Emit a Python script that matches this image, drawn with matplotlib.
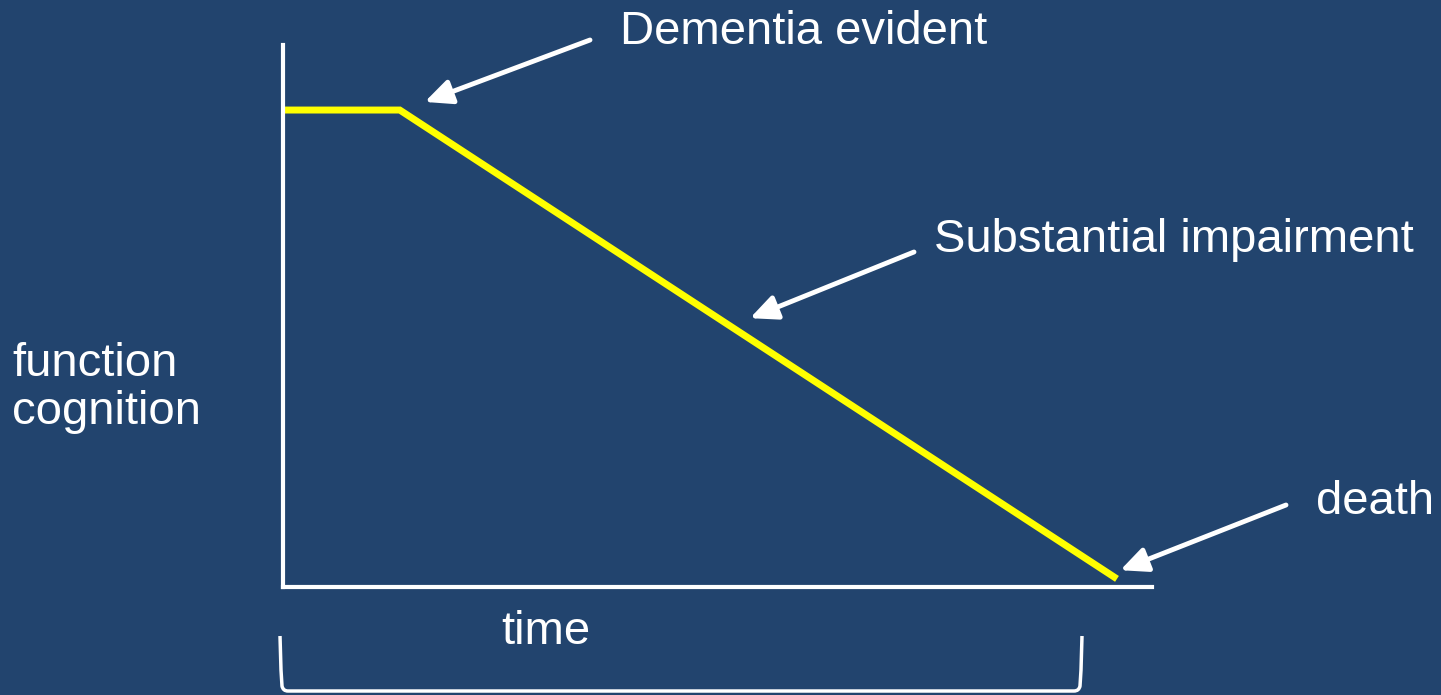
import matplotlib
matplotlib.use("Agg")
import matplotlib.pyplot as plt
from matplotlib.path import Path
from matplotlib.patches import PathPatch

plt.rcParams['font.family'] = ['Liberation Sans', 'DejaVu Sans']

# course of decline: plateau, onset of dementia, linear decline to death
time = [0.0, 1.4, 10.0]
function = [8.8, 8.8, 0.15]

# annotated stages: label, point on the curve (data), label position (figure px)
stages = ['Dementia evident', 'Substantial impairment', 'death']
stage_time = [1.70, 5.60, 10.04]
stage_func = [8.95, 4.96, 0.31]

bg = '#22446e'
fig = plt.figure(figsize=(14.41, 6.95), dpi=100, facecolor=bg)

ax = fig.add_axes([283 / 1441, 108 / 695, 869 / 1441, 542 / 695])
ax.set_facecolor('none')
ax.set_xlim(0, 10.42)
ax.set_ylim(0, 10)
for side in ['top', 'right']:
    ax.spines[side].set_visible(False)
for side in ['left', 'bottom']:
    ax.spines[side].set_color('white')
    ax.spines[side].set_linewidth(3)
ax.set_xticks([])
ax.set_yticks([])

ax.plot(time, function, color='#ffff00', lw=5, solid_capstyle='butt',
        solid_joinstyle='miter', clip_on=False)

# arrow tails and label anchors in figure pixels
tails = [(590, 655), (914, 443), (1286, 190)]
label_pos = [(620, 663), (934, 455), (1316, 193)]
for name, t, f, tail, pos in zip(stages, stage_time, stage_func, tails, label_pos):
    ax.annotate('', xy=(t, f), xycoords='data', xytext=tail,
                textcoords='figure pixels', annotation_clip=False,
                arrowprops=dict(arrowstyle='-|>,head_length=0.65,head_width=0.3',
                                mutation_scale=25, lw=3.5, color='white',
                                shrinkA=0, shrinkB=0))
    fig.text(pos[0] / 1441, pos[1] / 695, name, color='white', fontsize=34,
             ha='left', va='center')

fig.text(12 / 1441, 307 / 695, 'function\ncognition', color='white',
         fontsize=34, ha='left', va='center', linespacing=1.12)
fig.text(501 / 1441, 63 / 695, 'time', color='white', fontsize=34,
         ha='left', va='center')

# brace under the time axis
over = fig.add_axes([0, 0, 1, 1])
over.set_xlim(0, 1441)
over.set_ylim(695, 0)
over.axis('off')
verts = [(280, 636), (281, 670), (282, 686), (283, 691), (288, 691),
         (1074, 691), (1079, 691), (1080, 686), (1081, 670), (1082, 636)]
codes = [Path.MOVETO, Path.LINETO, Path.LINETO, Path.CURVE3, Path.CURVE3,
         Path.LINETO, Path.CURVE3, Path.CURVE3, Path.LINETO, Path.LINETO]
over.add_patch(PathPatch(Path(verts, codes), fill=False, edgecolor='white', lw=2.5))

fig.savefig('out.png', dpi=100, facecolor=bg)
